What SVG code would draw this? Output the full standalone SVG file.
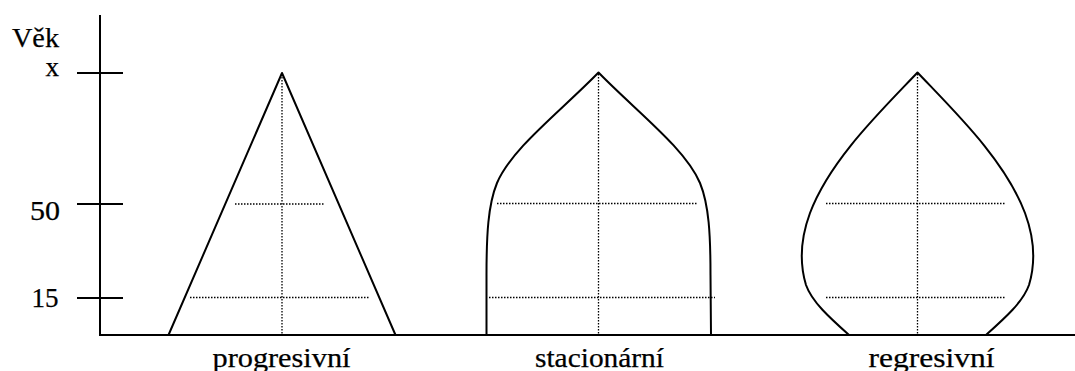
<svg xmlns="http://www.w3.org/2000/svg" width="1075" height="371" viewBox="0 0 1075 371">
<style>
.ax{stroke:#000;stroke-width:2;fill:none}
.sh{stroke:#000;stroke-width:2;fill:none;stroke-linejoin:round}
.dt{stroke:#000;stroke-width:1.3;fill:none;stroke-dasharray:1.5 1.5}
.lb{font-family:"Times New Roman","Liberation Serif","DejaVu Serif",serif;font-size:27px;fill:#000;stroke:#000;stroke-width:0.25}
</style>
<rect width="1075" height="371" fill="#fff"/>
<g id="axes">
<line class="ax" x1="100" y1="15" x2="100" y2="335"/>
<line class="ax" x1="99" y1="335" x2="1075" y2="335"/>
<line class="ax" x1="77" y1="73" x2="123" y2="73"/>
<line class="ax" x1="77" y1="204" x2="123" y2="204"/>
<line class="ax" x1="77" y1="298" x2="123" y2="298"/>
<text class="lb" x="12" y="46.5" textLength="47" lengthAdjust="spacingAndGlyphs">Věk</text>
<text class="lb" x="45.5" y="75.5" textLength="13.5" lengthAdjust="spacingAndGlyphs">x</text>
<text class="lb" x="30" y="220" textLength="30" lengthAdjust="spacingAndGlyphs">50</text>
<text class="lb" x="31.5" y="306.5" textLength="27" lengthAdjust="spacingAndGlyphs">15</text>
</g>
<g id="progresivni">
<path class="sh" d="M168.5,335 L282,73 L395.5,335"/>
<line class="dt" x1="282" y1="74" x2="282" y2="335"/>
<line class="dt" x1="235" y1="204" x2="325" y2="204"/>
<line class="dt" x1="190" y1="297.5" x2="370" y2="297.5"/>
<text class="lb" x="212.5" y="366.5" textLength="138" lengthAdjust="spacingAndGlyphs">progresivní</text>
</g>
<g id="stacionarni">
<path class="sh" d="M486.5,335 L486.5,275 C486.5,235 488,205 497,183 C512,148 560,112 598.5,72.5 C637,112 685,148 700,183 C709,205 710.5,235 710.5,275 L711,335"/>
<line class="dt" x1="598.5" y1="74" x2="598.5" y2="335"/>
<line class="dt" x1="497" y1="203.5" x2="697" y2="203.5"/>
<line class="dt" x1="489" y1="297.5" x2="715" y2="297.5"/>
<text class="lb" x="535" y="366.5" textLength="129" lengthAdjust="spacingAndGlyphs">stacionární</text>
</g>
<g id="regresivni">
<path class="sh" d="M849,335 C830,318 812,302 806,285 C800,265 800,240 810,213 C830,160 880,112 917.5,72.5 C955,112 1005,160 1025,213 C1035,240 1035,265 1029,285 C1023,302 1005,318 986,335"/>
<line class="dt" x1="917.5" y1="74" x2="917.5" y2="335"/>
<line class="dt" x1="826" y1="203.5" x2="1006" y2="203.5"/>
<line class="dt" x1="826" y1="297.5" x2="1006" y2="297.5"/>
<text class="lb" x="868.5" y="366.5" textLength="126" lengthAdjust="spacingAndGlyphs">regresivní</text>
</g>
</svg>
